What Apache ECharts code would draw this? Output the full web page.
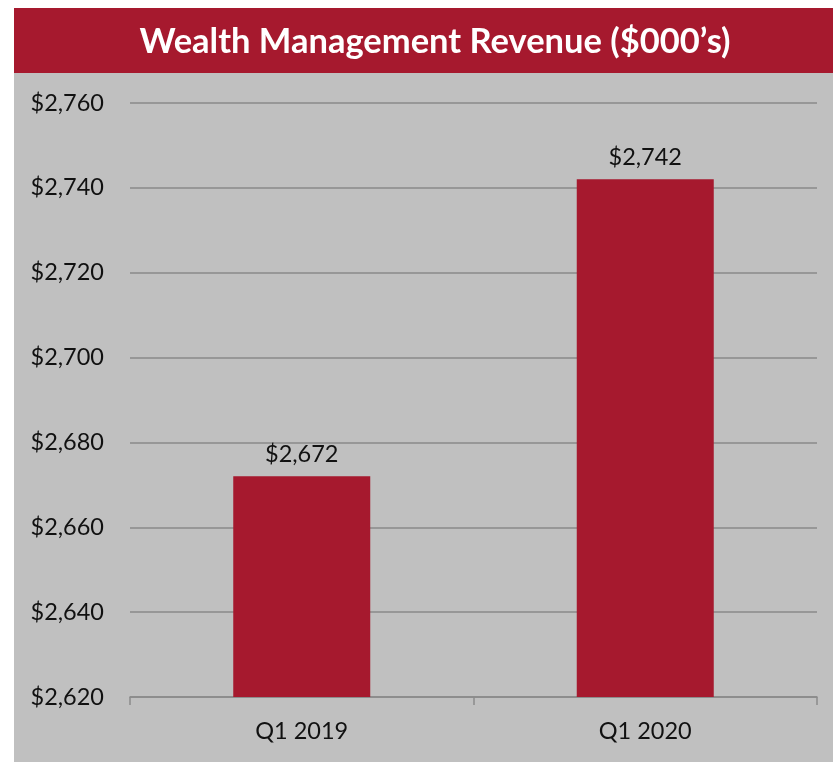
<!DOCTYPE html>
<html>
<head>
<meta charset="utf-8">
<script src="https://cdn.jsdelivr.net/npm/echarts@6/dist/echarts.min.js"></script>
<style>
html,body{margin:0;padding:0;background:#fff;}
#chart{width:833px;height:762px;}
</style>
</head>
<body>
<div id="chart"></div>
<script>
const titleText = "Wealth Management Revenue ($000’s)";
const categories = ["Q1 2019", "Q1 2020"];
const revenue = [2672, 2742];
const yTicks = { min: 2620, max: 2760, interval: 20 };

const chart = echarts.init(document.getElementById('chart'));
const FONT = 'Lato';
chart.setOption({
  backgroundColor: '#ffffff',
  animation: false,
  graphic: [
    { type: 'rect', left: 14, top: 8, z: -10, shape: { width: 819, height: 754 }, style: { fill: '#c0c0c0' } },
    { type: 'rect', left: 14, top: 8, z: -9, shape: { width: 819, height: 65 }, style: { fill: '#a6192e' } }
  ],
  title: {
    text: titleText,
    left: 430, textAlign: 'center',
    top: 19,
    textStyle: { color: '#ffffff', fontFamily: FONT, fontWeight: 'bold', fontSize: 34.5 }
  },
  grid: { left: 130, right: 16, top: 103, bottom: 65 },
  xAxis: {
    type: 'category',
    data: categories,
    axisLine: { lineStyle: { color: '#8a8a8a', width: 1.5 } },
    axisTick: { show: true, length: 8, lineStyle: { color: '#8a8a8a', width: 1.5 } },
    axisLabel: { color: '#111', fontFamily: FONT, fontSize: 23.5, margin: 22 }
  },
  yAxis: {
    type: 'value',
    min: yTicks.min, max: yTicks.max, interval: yTicks.interval,
    axisLine: { show: false },
    axisTick: { show: false },
    splitLine: { lineStyle: { color: '#8a8a8a', width: 1.5 } },
    axisLabel: {
      color: '#111', fontFamily: FONT, fontSize: 23.5, margin: 26,
      formatter: v => '$' + v.toLocaleString('en-US')
    }
  },
  series: [{
    type: 'bar',
    data: revenue,
    barWidth: 137,
    itemStyle: { color: '#a6192e' },
    label: {
      show: true, position: 'top', distance: 10,
      color: '#111', fontFamily: FONT, fontSize: 23.5,
      formatter: p => '$' + p.value.toLocaleString('en-US')
    }
  }]
});
</script>
</body>
</html>
